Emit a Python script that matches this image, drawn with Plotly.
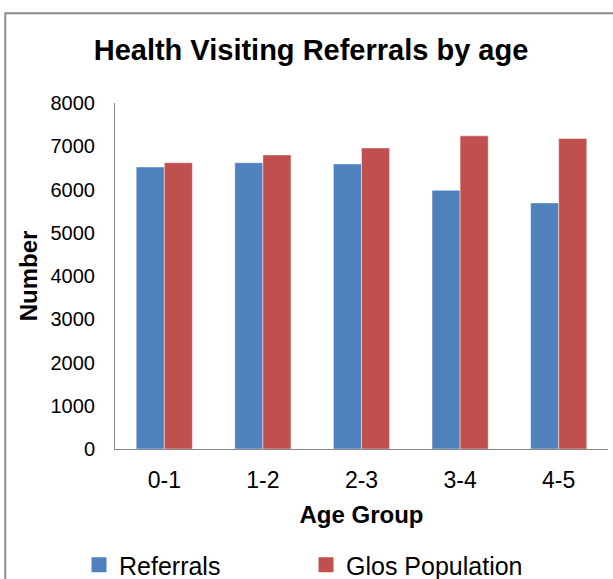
import plotly.graph_objects as go

# Referrals and Gloucestershire population per age band
age_groups = ["0-1", "1-2", "2-3", "3-4", "4-5"]
referrals = [6520, 6620, 6590, 5980, 5690]
glos_population = [6620, 6800, 6960, 7240, 7180]
y_ticks = [0, 1000, 2000, 3000, 4000, 5000, 6000, 7000, 8000]

BLUE = "#4F81BD"
RED = "#C0504D"
FONT = "Liberation Sans, Arial, sans-serif"

W, H = 613, 579
L, R, T, B = 115, 5, 103, 130
PW, PH = W - L - R, H - T - B


def px_x(p):
    return (p - L) / PW


def px_y(p):
    return (H - B - p) / PH


fig = go.Figure()
edge = dict(color="rgba(255,255,255,0.45)", width=1)
fig.add_trace(go.Bar(x=age_groups, y=referrals, name="Referrals",
                     marker=dict(color=BLUE, line=edge), showlegend=False))
fig.add_trace(go.Bar(x=age_groups, y=glos_population, name="Glos Population",
                     marker=dict(color=RED, line=edge), showlegend=False))

# legend entries with larger square keys
for name, col in [("Referrals", BLUE), ("Glos Population", RED)]:
    fig.add_trace(go.Scatter(x=[None], y=[None], mode="markers", name=name,
                             marker=dict(symbol="square", size=15, color=col)))

fig.update_layout(
    width=W, height=H,
    margin=dict(l=L, r=R, t=T, b=B, autoexpand=False),
    paper_bgcolor="white", plot_bgcolor="white",
    font=dict(family=FONT, color="black"),
    barmode="group", bargap=0.43, bargroupgap=0,
    title=dict(text="Health Visiting Referrals by age",
               font=dict(size=29, weight="bold", family=FONT),
               x=311 / W, xanchor="center", xref="container",
               y=1 - 50 / H, yanchor="middle", yref="container"),
    showlegend=True,
    legend=dict(orientation="h", x=px_x(79), xanchor="left",
                y=px_y(565), yanchor="middle",
                font=dict(size=25, family=FONT),
                entrywidth=182, entrywidthmode="pixels",
                bgcolor="rgba(0,0,0,0)", borderwidth=0,
                itemclick=False),
    shapes=[dict(type="rect", xref="paper", yref="paper",
                 x0=px_x(5.3), x1=px_x(630), y0=px_y(13.3), y1=px_y(600),
                 line=dict(color="#8c8c8c", width=2), fillcolor="rgba(0,0,0,0)",
                 layer="below")],
)

fig.update_xaxes(
    type="category", showline=True, linecolor="#868686", linewidth=1,
    ticks="", showgrid=False, zeroline=False,
    tickfont=dict(size=23, family=FONT),
    ticklabelstandoff=10,
    title=dict(text="Age Group", font=dict(size=24, weight="bold", family=FONT),
               standoff=14),
)
fig.update_yaxes(
    range=[0, 8000], tickvals=y_ticks, ticktext=[str(v) for v in y_ticks],
    showline=True, linecolor="#868686", linewidth=1,
    ticks="", showgrid=False, zeroline=False,
    tickfont=dict(size=20, family=FONT),
    ticklabelstandoff=15,
    title=dict(text="Number", font=dict(size=24, weight="bold", family=FONT),
               standoff=6),
)

fig.write_html("out.html")
